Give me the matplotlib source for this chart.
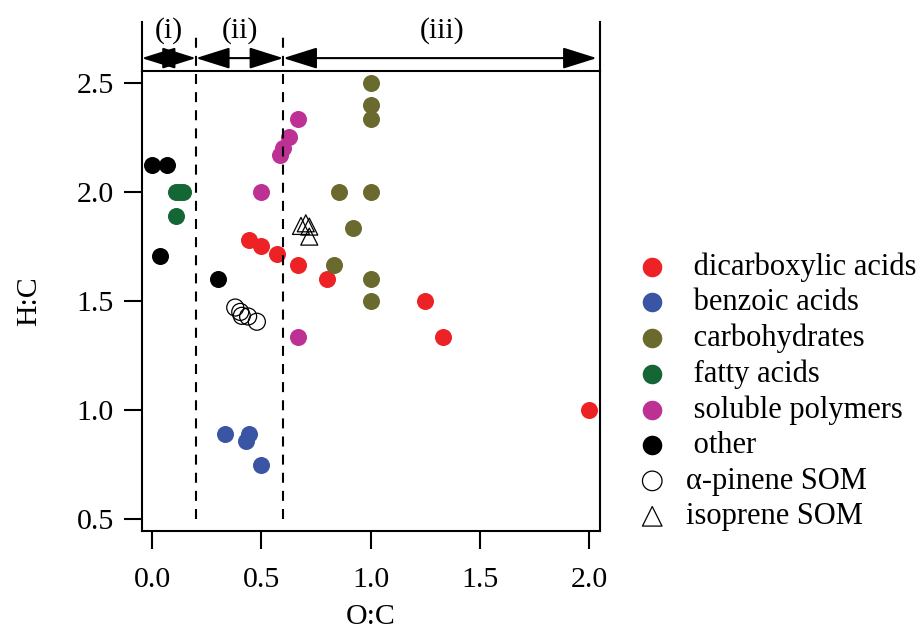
import matplotlib
matplotlib.use("Agg")
import matplotlib.pyplot as plt

plt.rcParams["font.family"] = ["Liberation Serif", "DejaVu Serif"]

# O:C and H:C values
dicarb_oc = [0.444, 0.5, 0.571, 0.667, 0.8, 1.25, 1.333, 2.0]
dicarb_hc = [1.778, 1.75, 1.714, 1.667, 1.6, 1.5, 1.333, 1.0]

benz_oc = [0.333, 0.444, 0.429, 0.5]
benz_hc = [0.889, 0.889, 0.857, 0.75]

carb_oc = [1.0, 1.0, 1.0, 0.857, 1.0, 0.917, 0.833, 1.0, 1.0]
carb_hc = [2.5, 2.4, 2.333, 2.0, 2.0, 1.833, 1.667, 1.6, 1.5]

fatty_oc = [0.111, 0.125, 0.143, 0.111]
fatty_hc = [2.0, 2.0, 2.0, 1.889]

poly_oc = [0.667, 0.625, 0.6, 0.583, 0.5, 0.667]
poly_hc = [2.333, 2.25, 2.2, 2.167, 2.0, 1.333]

other_oc = [0.0, 0.067, 0.035, 0.3]
other_hc = [2.125, 2.125, 1.705, 1.6]

apin_oc = [0.38, 0.403, 0.41, 0.439, 0.479]
apin_hc = [1.47, 1.45, 1.432, 1.429, 1.405]

iso_oc = [0.681, 0.703, 0.719, 0.719]
iso_hc = [1.844, 1.856, 1.841, 1.795]

region_bounds = [0.2, 0.6]
region_labels = ["(i)", "(ii)", "(iii)"]

xlo, xhi = -0.048, 2.05
ylo, yhi = 0.446, 2.554

fig = plt.figure(figsize=(9.21, 6.31), dpi=100)
ax = fig.add_axes([0.1539, 0.1585, 0.4976, 0.729])

s_fill = 150
ax.scatter(dicarb_oc, dicarb_hc, s=s_fill, color="#ED2224", lw=0, label=" dicarboxylic acids", zorder=2)
ax.scatter(benz_oc, benz_hc, s=s_fill, color="#3A55A4", lw=0, label=" benzoic acids", zorder=2)
ax.scatter(carb_oc, carb_hc, s=s_fill, color="#6B6A2E", lw=0, label=" carbohydrates", zorder=2)
ax.scatter(fatty_oc, fatty_hc, s=s_fill, color="#146735", lw=0, label=" fatty acids", zorder=2)
ax.scatter(poly_oc, poly_hc, s=s_fill, color="#BD3195", lw=0, label=" soluble polymers", zorder=2)
ax.scatter(other_oc, other_hc, s=s_fill, color="black", lw=0, label=" other", zorder=2)
ax.scatter(apin_oc, apin_hc, s=150, facecolor="none", edgecolor="black", lw=0.9, label="α-pinene SOM", zorder=2)
ax.scatter(iso_oc, iso_hc, s=150, marker="^", facecolor="none", edgecolor="black", lw=0.9, label="isoprene SOM", zorder=2)

ax.set_xlim(xlo, xhi)
ax.set_ylim(ylo, yhi)
ax.set_xticks([0.0, 0.5, 1.0, 1.5, 2.0])
ax.set_yticks([0.5, 1.0, 1.5, 2.0, 2.5])
ax.xaxis.set_major_formatter(matplotlib.ticker.FormatStrFormatter("%.1f"))
ax.yaxis.set_major_formatter(matplotlib.ticker.FormatStrFormatter("%.1f"))
ax.tick_params(direction="out", length=13, width=1.5, labelsize=21.5)
ax.tick_params(axis="x", pad=13)
ax.tick_params(axis="y", pad=7)
for sp in ax.spines.values():
    sp.set_linewidth(1.5)

ax.set_xlabel("O:C", fontsize=21.5, labelpad=8)
ax.set_ylabel("H:C", fontsize=21.5, labelpad=25)

# dashed region boundaries, running up into the header
ymin_frac = (0.5 - ylo) / (yhi - ylo)
for b in region_bounds:
    ax.axvline(b, ymin=ymin_frac, ymax=1.09, color="black", lw=1.5,
               ls=(0, (4.8, 3.9)), clip_on=False, zorder=3)
# side bars of the header
for xb in [xlo, xhi]:
    ax.axvline(xb, ymin=1.0, ymax=1.107, color="black", lw=1.5, clip_on=False)

# double-headed arrows and region labels
edges = [xlo] + region_bounds + [2.035]
for i in range(3):
    ax.annotate("", xy=(edges[i], 1.028), xytext=(edges[i + 1], 1.028),
                xycoords=("data", "axes fraction"), textcoords=("data", "axes fraction"),
                arrowprops=dict(arrowstyle="<|-|>,head_length=1.05,head_width=0.33",
                                mutation_scale=20, color="black", lw=1.5,
                                shrinkA=0, shrinkB=0))
    mid = (edges[i] + (edges[i + 1] if i < 2 else xhi)) / 2
    ax.text(mid, 1.088, region_labels[i], transform=ax.get_xaxis_transform(),
            ha="center", va="center", fontsize=21.5)

ax.legend(loc="upper left", bbox_to_anchor=(0.6916, 0.6), bbox_transform=fig.transFigure,
          frameon=False, fontsize=22, markerscale=1.15, handlelength=1.0,
          handletextpad=0.6, labelspacing=0.21, borderpad=0, borderaxespad=0,
          scatterpoints=1)

fig.savefig("out.png", dpi=100)
